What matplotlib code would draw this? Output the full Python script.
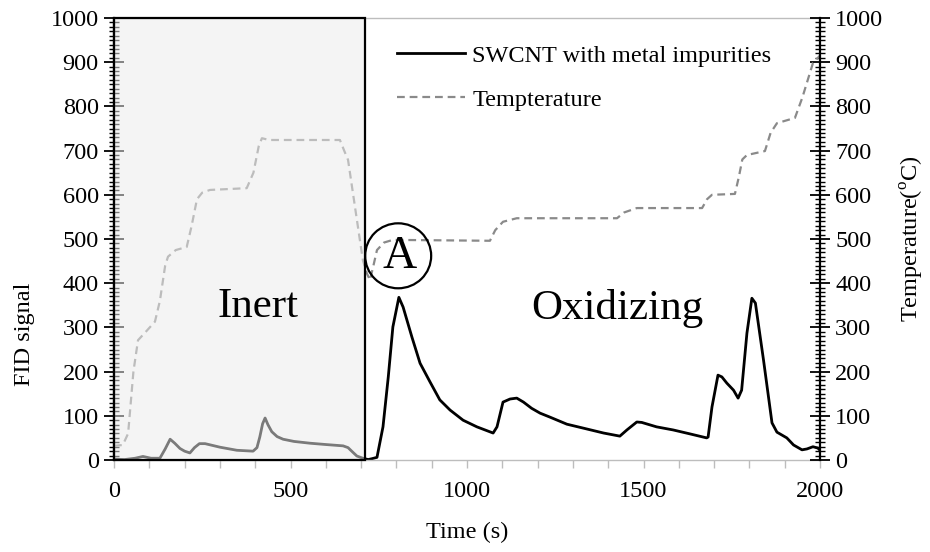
import matplotlib
matplotlib.use("Agg")
import matplotlib.pyplot as plt
from matplotlib.patches import Rectangle, Ellipse
from matplotlib.ticker import MultipleLocator

plt.rcParams['font.family'] = ['Liberation Serif', 'DejaVu Serif']
plt.rcParams['mathtext.fontset'] = 'custom'
plt.rcParams['mathtext.rm'] = 'Liberation Serif'

# FID signal (SWCNT with metal impurities)
fid_t = [0, 30, 60, 82, 105, 130, 145, 159, 172, 187, 200, 215, 228, 242, 258, 300, 348, 394,
         405, 413, 421, 428, 436, 447, 462, 479, 510, 555, 600, 649, 663, 676, 688, 705, 720,
         731, 745, 762, 777, 790, 807, 819, 844, 867, 895, 923, 952, 989, 1028, 1074, 1085,
         1102, 1122, 1141, 1160, 1183, 1207, 1235, 1283, 1330, 1387, 1433, 1453, 1481, 1495,
         1537, 1584, 1632, 1679, 1683, 1694, 1711, 1722, 1736, 1755, 1768, 1778, 1793, 1807,
         1817, 1840, 1864, 1878, 1906, 1925, 1949, 1963, 1980, 1994, 2000]
fid_v = [2, 1, 4, 8, 4, 4, 25, 47, 38, 26, 20, 16, 28, 37, 37, 29, 22, 20,
         28, 52, 82, 95, 80, 64, 53, 47, 42, 38, 35, 32, 28, 18, 9, 4, 1,
         3, 6, 75, 188, 301, 368, 346, 278, 219, 177, 136, 113, 90, 75, 61, 75,
         131, 138, 140, 131, 117, 106, 97, 81, 72, 61, 54, 68, 86, 85,
         75, 68, 59, 50, 52, 120, 192, 188, 174, 158, 140, 158, 287, 366,
         355, 226, 84, 63, 50, 34, 23, 25, 30, 27, 22]

# Temperature
tmp_t = [0, 25, 40, 55, 68, 90, 116, 130, 145, 153, 175, 206, 220, 235, 250, 272, 376, 395,
         410, 419, 440, 640, 652, 663, 685, 705, 716, 725, 735, 745, 765, 790, 1065, 1080,
         1102, 1141, 1425, 1445, 1481, 1666, 1680, 1694, 1759, 1770, 1780, 1793, 1844, 1860,
         1878, 1929, 1950, 1980, 2000]
tmp_v = [32, 34, 60, 200, 271, 290, 313, 360, 440, 460, 475, 482, 530, 590, 605, 611, 615, 650,
         710, 728, 724, 724, 700, 679, 560, 452, 423, 407, 440, 475, 492, 498, 496, 520,
         539, 547, 547, 560, 570, 570, 590, 600, 602, 640, 680, 690, 699, 740,
         762, 774, 820, 898, 915]

inert_end = 710
fs = 17.5

fig = plt.figure(figsize=(9.3, 5.52), dpi=100)
ax = fig.add_axes([114/930, 92/552, 706/930, 442/552])
ax2 = ax.twinx()

l1, = ax.plot(fid_t, fid_v, color='black', lw=2.0, solid_joinstyle='round')
l2, = ax2.plot(tmp_t, tmp_v, color='#8a8a8a', lw=1.6, dashes=(3.5, 2.2))

for a in (ax, ax2):
    a.set_xlim(0, 2000)
    a.set_ylim(0, 1000)
ax2.patch.set_visible(False)

ax2.add_patch(Rectangle((0, 0), inert_end, 1000, facecolor=(0.92, 0.92, 0.92, 0.52),
                        edgecolor='black', lw=1.6, zorder=5, clip_on=False))

ax2.text(408, 346, 'Inert', fontsize=31, ha='center', va='center', zorder=6)
ax2.text(1425, 343, 'Oxidizing', fontsize=31, ha='center', va='center', zorder=6)
ax2.add_patch(Ellipse((805, 462), 187, 147, facecolor='none', edgecolor='black', lw=1.6, zorder=6))
ax2.text(808, 459, 'A', fontsize=34, ha='center', va='center', zorder=6)

# spines
for s in ('top', 'bottom'):
    ax.spines[s].set_color('#bdbdbd')
    ax2.spines[s].set_visible(False)
ax.spines['bottom'].set_linewidth(1.0)
ax.spines['top'].set_linewidth(1.0)
ax.spines['left'].set_linewidth(1.6)
ax2.spines['right'].set_linewidth(1.6)
ax2.spines['left'].set_visible(False)
ax.spines['right'].set_visible(False)

ax.xaxis.set_major_locator(MultipleLocator(500))
ax.xaxis.set_minor_locator(MultipleLocator(100))
ax.tick_params(axis='x', which='both', direction='out', length=6, width=1.0,
               color='#bdbdbd', labelsize=fs, pad=9)

for a, side in ((ax, 'left'), (ax2, 'right')):
    a.yaxis.set_major_locator(MultipleLocator(100))
    a.yaxis.set_minor_locator(MultipleLocator(10))
    a.tick_params(axis='y', which='major', direction='inout', length=14, width=1.3,
                  color='black', labelsize=fs, pad=4)
    a.tick_params(axis='y', which='minor', direction='inout', length=7, width=1.0,
                  color='black')

ax.set_xlabel('Time (s)', fontsize=fs)
ax.xaxis.set_label_coords(0.5, -0.14)
ax.set_ylabel('FID signal', fontsize=fs)
ax.yaxis.set_label_coords(-0.112, 0.285)
ax2.set_ylabel('Temperature($^{\\mathrm{o}}$C)', fontsize=fs)
ax2.yaxis.set_label_coords(1.112, 0.5)

ax2.legend([l1, l2], ['SWCNT with metal impurities', 'Tempterature'],
           loc='upper left', bbox_to_anchor=(0.401, 0.94), frameon=False,
           fontsize=fs, handlelength=2.8, handletextpad=0.3, labelspacing=0.92,
           borderpad=0, borderaxespad=0)

fig.savefig('out.png', dpi=100)
